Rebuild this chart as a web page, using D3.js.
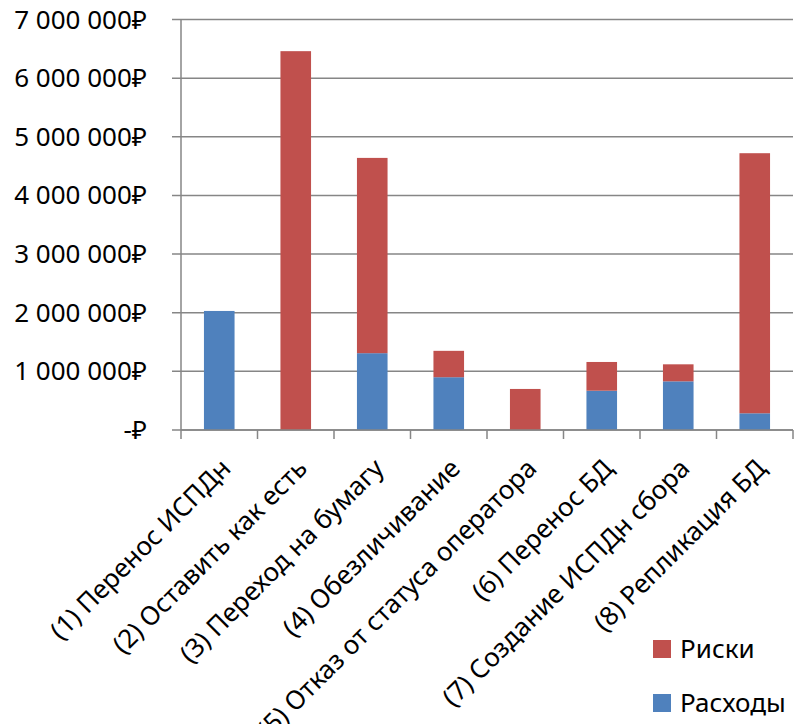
<!DOCTYPE html>
<html>
<head>
<meta charset="utf-8">
<script src="https://cdn.jsdelivr.net/npm/d3@7"></script>
<style>
  body { margin: 0; background: #fff; }
  text { font-family: "Noto Sans", "Open Sans", sans-serif; fill: #000; }
</style>
</head>
<body>
<script>
const categories = [
  "(1) Перенос ИСПДн",
  "(2) Оставить как есть",
  "(3) Переход на бумагу",
  "(4) Обезличивание",
  "(5) Отказ от статуса оператора",
  "(6) Перенос БД",
  "(7) Создание ИСПДн сбора",
  "(8) Репликация БД"
];
const expenses = [2030000, 0, 1310000, 900000, 0, 670000, 830000, 285000];
const risks = [0, 6460000, 3330000, 450000, 700000, 490000, 290000, 4435000];
const yTicks = [0, 1000000, 2000000, 3000000, 4000000, 5000000, 6000000, 7000000];
const seriesNames = ["Расходы", "Риски"];
const seriesColors = ["#4F81BD", "#C0504D"];

const width = 795;
const height = 724;
const plot = {left: 181, right: 793, top: 19.5, bottom: 430};

const svg = d3.select("body").append("svg")
  .attr("width", width)
  .attr("height", height);

const xscale = d3.scaleBand()
  .domain(categories)
  .range([plot.left, plot.right])
  .paddingInner(0.6)
  .paddingOuter(0.3);

const yscale = d3.scaleLinear()
  .domain([0, 7000000])
  .range([plot.bottom, plot.top]);

const loc = d3.formatLocale({decimal: ",", thousands: " ", grouping: [3], currency: ["", "₽"]});
const fmt = v => v === 0 ? "-₽" : loc.format(",.0f")(v) + "₽";

// gridlines + y labels
svg.append("g")
  .selectAll("line")
  .data(yTicks)
  .enter()
  .append("line")
  .attr("x1", plot.left - 9)
  .attr("x2", plot.right)
  .attr("y1", d => yscale(d))
  .attr("y2", d => yscale(d))
  .attr("stroke", "#868686")
  .attr("stroke-width", 1.5);

svg.append("g")
  .selectAll("text")
  .data(yTicks)
  .enter()
  .append("text")
  .attr("x", 147)
  .attr("y", d => yscale(d) + 9)
  .attr("text-anchor", "end")
  .attr("font-size", "26px")
  .text(fmt);

// y axis line
svg.append("line")
  .attr("x1", plot.left).attr("x2", plot.left)
  .attr("y1", plot.top).attr("y2", plot.bottom)
  .attr("stroke", "#868686")
  .attr("stroke-width", 1.5);

// stacked bars
const table = categories.map((c, i) => ({cat: c, "Расходы": expenses[i], "Риски": risks[i]}));
const stack = d3.stack().keys(seriesNames)(table);

svg.append("g")
  .selectAll("g")
  .data(stack)
  .enter()
  .append("g")
  .attr("fill", (d, i) => seriesColors[i])
  .selectAll("rect")
  .data(d => d)
  .enter()
  .append("rect")
  .attr("x", d => xscale(d.data.cat))
  .attr("width", xscale.bandwidth())
  .attr("y", d => yscale(d[1]))
  .attr("height", d => yscale(d[0]) - yscale(d[1]));

// x axis
const bounds = d3.range(categories.length + 1).map(i => plot.left + i * xscale.step());
svg.append("line")
  .attr("x1", plot.left).attr("x2", plot.right)
  .attr("y1", plot.bottom).attr("y2", plot.bottom)
  .attr("stroke", "#868686")
  .attr("stroke-width", 1.5);

svg.append("g")
  .selectAll("line")
  .data(bounds)
  .enter()
  .append("line")
  .attr("x1", d => d).attr("x2", d => d)
  .attr("y1", plot.bottom).attr("y2", plot.bottom + 9)
  .attr("stroke", "#868686")
  .attr("stroke-width", 1.5);

svg.append("g")
  .selectAll("text")
  .data(categories)
  .enter()
  .append("text")
  .attr("transform", d => `translate(${xscale(d) + xscale.bandwidth() / 2 + 13}, 470) rotate(-45)`)
  .attr("text-anchor", "end")
  .attr("font-size", "26px")
  .text(d => d);

// legend (reverse order like Excel)
const legend = svg.append("g")
  .selectAll("g")
  .data(seriesNames.slice().reverse())
  .enter()
  .append("g")
  .attr("transform", (d, i) => `translate(653, ${640 + i * 54})`);

legend.append("rect")
  .attr("width", 18)
  .attr("height", 18)
  .attr("fill", d => seriesColors[seriesNames.indexOf(d)]);

legend.append("text")
  .attr("x", 27)
  .attr("y", 18)
  .attr("font-size", "26px")
  .text(d => d);
</script>
</body>
</html>
